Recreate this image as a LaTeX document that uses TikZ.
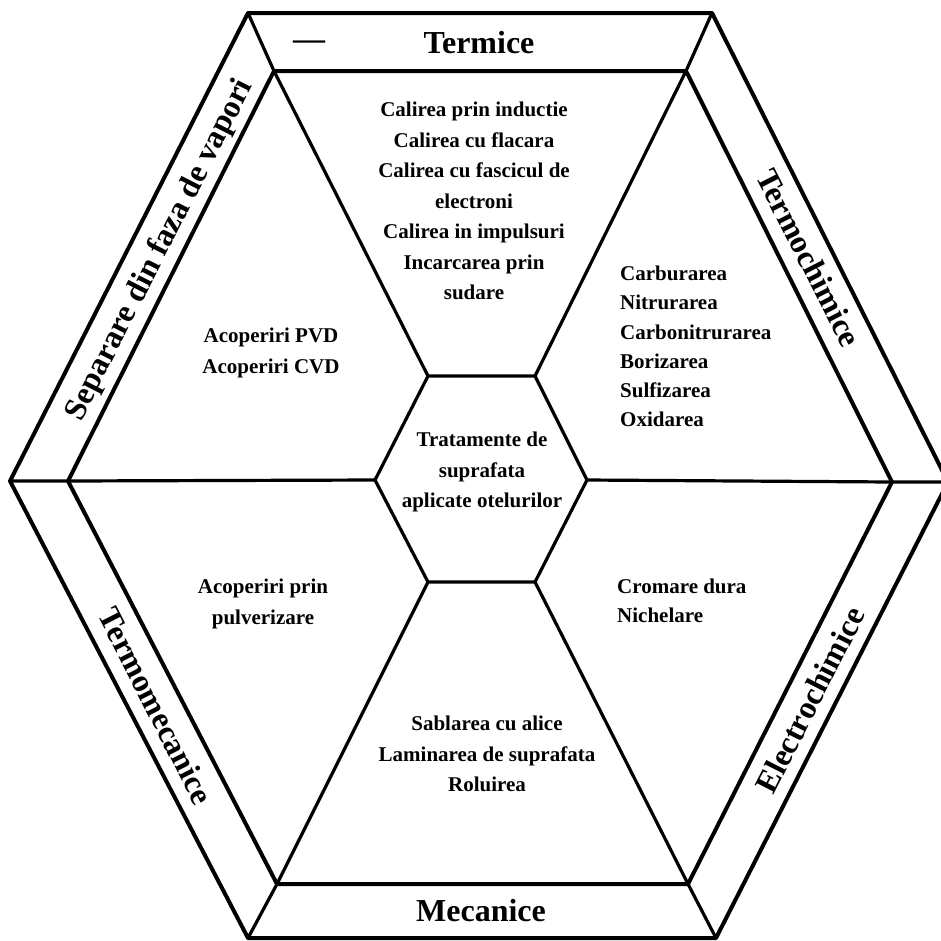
\documentclass[tikz,border=0pt]{standalone}
\usepackage{fontspec}
\setmainfont{Liberation Serif}
\begin{document}
\begin{tikzpicture}[x=1pt,y=-1pt,
  edge/.style={line width=4pt,line join=round,line cap=round},
  spoke/.style={line width=3.2pt,line cap=round},
  celltext/.style={font=\fontsize{21}{30.5}\selectfont\bfseries,align=center,inner sep=0pt,anchor=north},
  lefttext/.style={font=\fontsize{21}{29.2}\selectfont\bfseries,align=left,inner sep=0pt,anchor=north west},
  bandtext/.style={font=\fontsize{32}{34}\selectfont\bfseries,inner sep=0pt}]
\useasboundingbox (0,0) rectangle (941,940);
% outer hexagon
\coordinate (O1) at (248,13);
\coordinate (O2) at (712,13);
\coordinate (O3) at (948,482);
\coordinate (O4) at (716,938);
\coordinate (O5) at (248,938);
\coordinate (O6) at (10,481);
% inner hexagon
\coordinate (I1) at (274,71);
\coordinate (I2) at (686,71);
\coordinate (I3) at (892,482);
\coordinate (I4) at (688,884);
\coordinate (I5) at (277,884);
\coordinate (I6) at (68,481);
% centre hexagon
\coordinate (C1) at (428,376);
\coordinate (C2) at (535,376);
\coordinate (C3) at (587,480);
\coordinate (C4) at (535,582);
\coordinate (C5) at (428,582);
\coordinate (C6) at (375,480);
\draw[edge] (O1) -- (O2) -- (O3) -- (O4) -- (O5) -- (O6) -- cycle;
\draw[edge] (I1) -- (I2) -- (I3) -- (I4) -- (I5) -- (I6) -- cycle;
\draw[spoke] (C1) -- (C2) -- (C3) -- (C4) -- (C5) -- (C6) -- cycle;
\foreach \k in {1,...,6}{\draw[spoke] (O\k) -- (I\k) -- (C\k);}
% band labels
\node[bandtext] (termice) at (479,43) {Termice};
\node[font=\fontsize{32}{32}\selectfont\bfseries,inner sep=0pt] (dash) at (309,45) {—};
\node[bandtext] (mecanice) at (481,911) {Mecanice};
\node[bandtext,rotate=-63] (termochimice) at (809,258) {Termochimice};
\node[bandtext,rotate=63] (electro) at (810,700) {Electrochimice};
\node[bandtext,rotate=63] (separare) at (160,250) {Separare din faza de vapori};
\node[bandtext,rotate=-63] (termomec) at (156,706) {Termomecanice};
% cell texts
\node[celltext] (top) at (474,102) {Calirea prin inductie\\ Calirea cu flacara\\ Calirea cu fascicul de\\ electroni\\ Calirea in impulsuri\\ Incarcarea prin\\ sudare};
\node[lefttext] (right) at (620,266) {Carburarea\\ Nitrurarea\\ Carbonitrurarea\\ Borizarea\\ Sulfizarea\\ Oxidarea};
\node[celltext] (left) at (271,328) {Acoperiri PVD\\ Acoperiri CVD};
\node[celltext] (centre) at (482,432) {Tratamente de\\ suprafata\\ aplicate otelurilor};
\node[celltext] (lowleft) at (263,579) {Acoperiri prin\\ pulverizare};
\node[lefttext] (lowright) at (617,579) {Cromare dura\\ Nichelare};
\node[celltext] (bottom) at (487,716) {Sablarea cu alice\\ Laminarea de suprafata\\ Roluirea};
\end{tikzpicture}
\end{document}
